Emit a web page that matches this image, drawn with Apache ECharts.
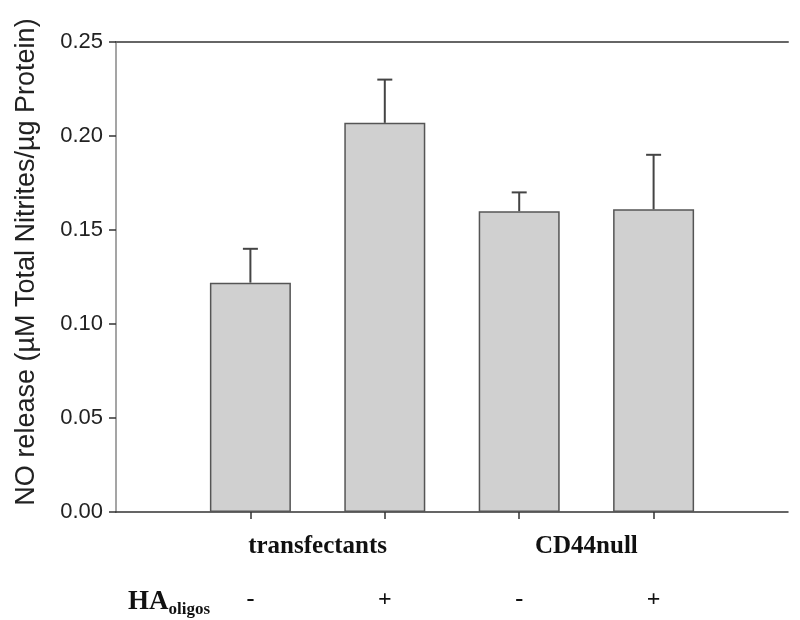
<!DOCTYPE html>
<html>
<head>
<meta charset="utf-8">
<script src="https://cdn.jsdelivr.net/npm/echarts@6/dist/echarts.min.js"></script>
<style>html,body{margin:0;padding:0;background:#fff}#c{width:800px;height:620px}</style>
</head>
<body>
<div id="c"></div>
<script>
const positions = [1, 2, 3, 4];
const signs = ['-', '+', '-', '+'];
const groupPositions = [1.5, 3.5];
const groups = ['transfectants', 'CD44null'];
const values = [0.122, 0.207, 0.160, 0.161];
const upper = [0.140, 0.230, 0.170, 0.190];

const chart = echarts.init(document.getElementById('c'), null, {renderer: 'canvas'});
const barData = positions.map((p, i) => [p, values[i]]);
const errData = positions.map((p, i) => [p, upper[i], values[i]]);

chart.setOption({
  animation: false,
  grid: {left: 116, right: 12, top: 42, bottom: 108},
  xAxis: [
    {
      type: 'value', min: 0, max: 5, position: 'bottom',
      axisLine: {show: true, lineStyle: {color: '#333', width: 1.5}},
      axisTick: {show: true, customValues: positions, length: 7, lineStyle: {color: '#333', width: 1.5}},
      axisLabel: {customValues: positions, formatter: v => signs[positions.indexOf(v)],
        margin: 76, fontFamily: 'Liberation Serif', fontWeight: 'bold', fontSize: 24, color: '#111'},
      splitLine: {show: false}
    },
    {
      type: 'value', min: 0, max: 5, position: 'bottom',
      axisLine: {show: false}, axisTick: {show: false}, splitLine: {show: false},
      axisLabel: {customValues: groupPositions, formatter: v => groups[groupPositions.indexOf(v)],
        margin: 22, fontFamily: 'Liberation Serif', fontWeight: 'bold', fontSize: 25, color: '#111'}
    },
    {
      type: 'value', min: 0, max: 5, position: 'top',
      axisLine: {show: true, lineStyle: {color: '#666', width: 2}},
      axisTick: {show: false}, axisLabel: {show: false}, splitLine: {show: false}
    }
  ],
  yAxis: [
    {
      type: 'value', min: 0, max: 0.25, interval: 0.05,
      axisLine: {show: true, lineStyle: {color: '#333', width: 1.5}},
      axisTick: {show: true, length: 7, lineStyle: {color: '#333', width: 1.5}},
      axisLabel: {formatter: v => v.toFixed(2), margin: 13, fontFamily: 'Liberation Sans', fontSize: 22, color: '#222'},
      splitLine: {show: false}
    },
    {
      type: 'value', min: 0, max: 0.25, interval: 0.05, position: 'right',
      axisLine: {show: true, lineStyle: {color: '#bbb', width: 1.5}},
      axisTick: {show: false}, axisLabel: {show: false}, splitLine: {show: false}
    }
  ],
  graphic: [
    {
      type: 'text', x: 27, y: 262, rotation: Math.PI / 2,
      style: {text: 'NO release (µM Total Nitrites/µg Protein)', fontFamily: 'Liberation Sans', fontSize: 27,
        fill: '#222', align: 'center', verticalAlign: 'middle'}
    },
    {
      type: 'text', x: 128, y: 602,
      style: {
        text: '{a|HA}{b|oligos}', verticalAlign: 'middle',
        rich: {
          a: {fontFamily: 'Liberation Serif', fontWeight: 'bold', fontSize: 27, fill: '#111'},
          b: {fontFamily: 'Liberation Serif', fontWeight: 'bold', fontSize: 17, fill: '#111', padding: [16, 0, 0, 0]}
        }
      }
    }
  ],
  series: [
    {
      type: 'bar', xAxisIndex: 0, yAxisIndex: 0, data: barData, barWidth: 81,
      itemStyle: {color: '#d0d0d0', borderColor: '#555', borderWidth: 1.5}
    },
    {
      type: 'custom', xAxisIndex: 0, yAxisIndex: 0, data: errData, z: 5,
      renderItem: function (params, api) {
        const x = api.value(0);
        const top = api.coord([x, api.value(1)]);
        const base = api.coord([x, api.value(2)]);
        const half = 7.5;
        const st = {stroke: '#444', lineWidth: 2};
        return {
          type: 'group',
          children: [
            {type: 'line', shape: {x1: top[0], y1: base[1], x2: top[0], y2: top[1]}, style: st},
            {type: 'line', shape: {x1: top[0] - half, y1: top[1], x2: top[0] + half, y2: top[1]}, style: st}
          ]
        };
      }
    }
  ]
});
</script>
</body>
</html>
